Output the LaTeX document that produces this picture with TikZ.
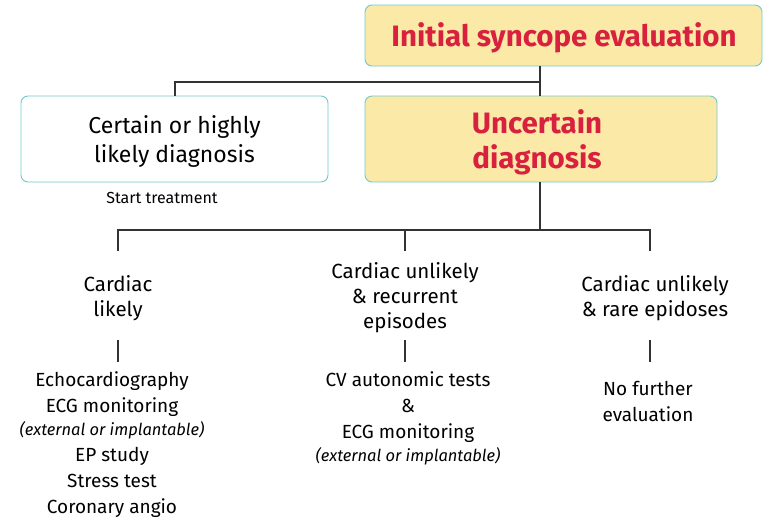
\documentclass[tikz,border=0pt]{standalone}
\usepackage{fontspec}
\setmainfont{Fira Sans}
\begin{document}
\begin{tikzpicture}[x=1pt,y=-1pt,
  conn/.style={draw=black!80, line width=1.1pt},
  ybox/.style={line width=0.9pt, rounded corners=7pt},
  wbox/.style={line width=0.9pt, rounded corners=7pt, fill=white},
  redtxt/.style={font=\fontsize{29.5}{35}\selectfont\bfseries, align=center},
  lbl/.style={align=center, font=\fontsize{20.5}{25}\selectfont},
  lst/.style={align=center, font=\fontsize{19}{26}\selectfont},
  ital/.style={font=\fontsize{16.5}{20}\selectfont\itshape},
]
\definecolor{boxyel}{HTML}{FBE9A7}
\definecolor{boxedge}{HTML}{72C8C9}
\definecolor{redt}{HTML}{D8203F}
\tikzset{ybox/.append style={fill=boxyel, draw=boxedge}, wbox/.append style={draw=boxedge}, redtxt/.append style={text=redt}}
\useasboundingbox (0,0) rectangle (768,528);
% boxes
\draw[ybox] (365,5) rectangle (762,66);
\node[redtxt] (init) at (564,38) {Initial syncope evaluation};
\coordinate (initb) at (540,66);
\draw[wbox] (21,96) rectangle (328,182);
\node[align=center, font=\fontsize{23}{29}\selectfont] (cert) at (174.5,141) {Certain or highly\\likely diagnosis};
\coordinate (certt) at (175,96);
\draw[ybox] (365,96) rectangle (717,182);
\node[redtxt] (unc) at (537,142) {Uncertain\\diagnosis};
\coordinate (unct) at (540,96);
\coordinate (uncb) at (540,182);
\node[font=\fontsize{16}{18}\selectfont] (start) at (162,198) {Start treatment};
% connectors top
\coordinate (j1) at (540,82);
\coordinate (j1l) at (175,82);
\draw[conn] (initb) -- (unct);
\draw[conn] (j1) -- (j1l) -- (certt);
% level 2
\coordinate (j2) at (540,230);
\coordinate (aL) at (118,230);
\coordinate (aM) at (405,230);
\coordinate (aR) at (650,230);
\coordinate (aLb) at (118,251);
\coordinate (aMb) at (405,251);
\coordinate (aRb) at (650,251);
\draw[conn] (uncb) -- (j2);
\draw[conn] (aLb) -- (aL) -- (aR) -- (aRb);
\draw[conn] (aM) -- (aMb);
\node[lbl] (cL) at (118,298) {Cardiac\\likely};
\node[lbl] (cM) at (405,298) {Cardiac unlikely\\\& recurrent\\episodes};
\node[lbl] (cR) at (655,298) {Cardiac unlikely\\\& rare epidoses};
\coordinate (bL1) at (118,340); \coordinate (bL2) at (118,362);
\coordinate (bM1) at (405,340); \coordinate (bM2) at (405,362);
\coordinate (bR1) at (650,340); \coordinate (bR2) at (650,362);
\draw[conn] (bL1) -- (bL2);
\draw[conn] (bM1) -- (bM2);
\draw[conn] (bR1) -- (bR2);
% lists
\node[lst, anchor=north] (lL) at (112,368) {Echocardiography\\ECG monitoring\\[-3pt]{\fontsize{16.5}{20}\selectfont\itshape (external or implantable)}\\[0pt]EP study\\Stress test\\Coronary angio};
\node[lst, anchor=north] (lM) at (408,368) {CV autonomic tests\\\&\\ECG monitoring\\[-3pt]{\fontsize{16.5}{20}\selectfont\itshape (external or implantable)}};
\node[lst] (lR) at (648,401) {No further\\evaluation};
\end{tikzpicture}
\end{document}
